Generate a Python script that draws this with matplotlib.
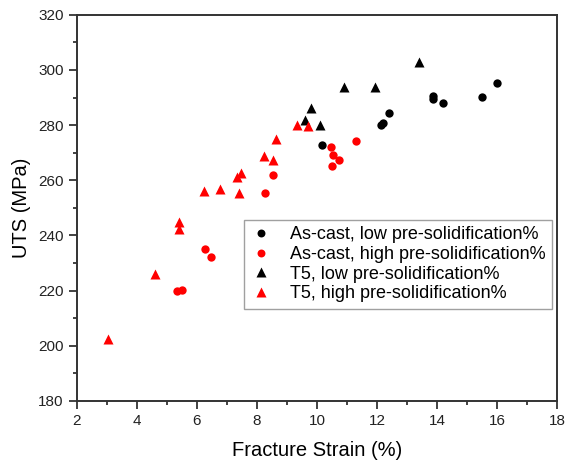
import matplotlib.pyplot as plt
from matplotlib.ticker import MultipleLocator

plt.rcParams["font.family"] = ["Liberation Sans", "DejaVu Sans"]

# As-cast, low pre-solidification%
cast_low_strain = [10.17, 12.14, 12.21, 12.41, 13.86, 13.86, 14.19, 15.52, 16.01]
cast_low_uts = [272.7, 280.2, 280.7, 284.3, 290.4, 289.4, 288.0, 290.1, 295.2]

# As-cast, high pre-solidification%
cast_high_strain = [5.34, 5.50, 6.27, 6.46, 8.26, 8.52, 10.46, 10.54, 10.74, 10.51, 11.30]
cast_high_uts = [220.0, 220.3, 235.1, 232.1, 255.5, 261.9, 272.0, 269.3, 267.4, 265.2, 274.4]

# T5, low pre-solidification%
t5_low_strain = [9.60, 9.79, 10.10, 10.90, 11.92, 13.39]
t5_low_uts = [281.7, 286.3, 280.0, 293.8, 294.0, 303.0]

# T5, high pre-solidification%
t5_high_strain = [3.04, 4.60, 5.41, 5.41, 6.23, 6.77, 7.32, 7.47, 7.41, 8.23, 8.54, 8.62, 9.34, 9.70]
t5_high_uts = [202.4, 226.1, 244.9, 242.3, 256.3, 256.8, 261.1, 262.6, 255.5, 268.9, 267.4, 274.9, 280.0, 279.7]

fig = plt.figure(figsize=(5.7, 4.63), dpi=100)
ax = fig.add_axes([0.135, 0.134, 0.842, 0.834])

ax.plot(cast_low_strain, cast_low_uts, "o", color="black", ms=6, mec="none",
        label="As-cast, low pre-solidification%")
ax.plot(cast_high_strain, cast_high_uts, "o", color="red", ms=6, mec="none",
        label="As-cast, high pre-solidification%")
ax.plot(t5_low_strain, t5_low_uts, "^", color="black", ms=7, mec="none",
        label="T5, low pre-solidification%")
ax.plot(t5_high_strain, t5_high_uts, "^", color="red", ms=7, mec="none",
        label="T5, high pre-solidification%")

ax.set_xlim(2, 18)
ax.set_ylim(180, 320)
ax.xaxis.set_major_locator(MultipleLocator(2))
ax.xaxis.set_minor_locator(MultipleLocator(1))
ax.yaxis.set_major_locator(MultipleLocator(20))
ax.yaxis.set_minor_locator(MultipleLocator(10))
ax.tick_params(which="major", direction="out", length=6, width=1.2, labelsize=11, colors="#222222")
ax.tick_params(which="minor", direction="out", length=3, width=1.2, colors="#222222")
for side in ax.spines.values():
    side.set_linewidth(1.4)
    side.set_color("#333333")

ax.set_xlabel("Fracture Strain (%)", fontsize=14.5, labelpad=9)
ax.set_ylabel("UTS (MPa)", fontsize=14.5, labelpad=5)

leg = ax.legend(loc="upper left", bbox_to_anchor=(0.348, 0.469), fontsize=13,
                frameon=True, fancybox=False, edgecolor="#888888", markerscale=0.95,
                handlelength=1.2, handletextpad=1.0, borderpad=0.35, labelspacing=0.15,
                borderaxespad=0)
leg.get_frame().set_linewidth(1.0)

fig.savefig("out.png", dpi=100)
